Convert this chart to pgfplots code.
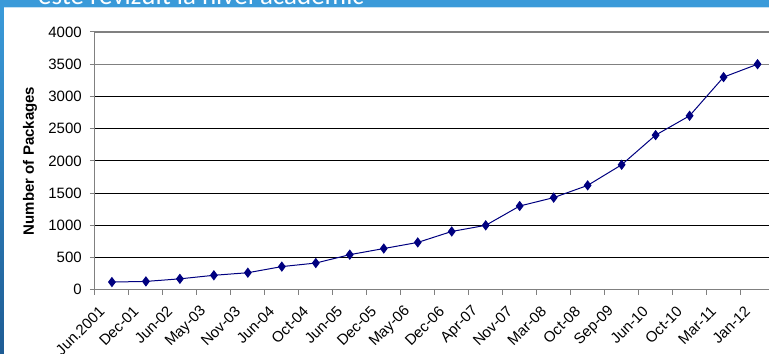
\documentclass[border=0pt]{standalone}
\usepackage{pgfplots}
\pgfplotsset{compat=1.18}
\usepackage{fontspec}
\setmainfont{Liberation Sans}
\newfontfamily\slidefont{Carlito}

\definecolor{framelight}{RGB}{58,154,217}
\definecolor{framedark}{RGB}{30,92,148}
\definecolor{seriesblue}{RGB}{0,0,128}
\definecolor{axisgray}{RGB}{128,128,128}

\begin{document}
\begin{tikzpicture}
% slide frame
\fill[white] (0pt,0pt) rectangle (770pt,354pt);
\fill[framelight] (0pt,347pt) rectangle (770pt,354pt);
\draw[white!70!framelight, line width=0.8pt] (4pt,346.6pt) -- (770pt,346.6pt);
\shade[top color=framelight, bottom color=framedark] (0pt,0pt) rectangle (4pt,347pt);
\begin{scope}
\clip (0pt,347pt) rectangle (770pt,354pt);
\node[overlay, anchor=base west, inner sep=0pt, text=white, font=\slidefont\fontsize{27}{30}\selectfont]
  at (38pt,349.5pt) {este revizuit la nivel academic};
\end{scope}

\begin{axis}[
  at={(95pt,64pt)}, anchor=south west,
  scale only axis, width=675pt, height=258pt,
  xmin=-0.5, xmax=19.35, ymin=0, ymax=4000,
  axis x line*=bottom, axis y line*=left,
  axis line style={axisgray, line width=1pt},
  font=\fontsize{15}{18}\selectfont,
  /pgf/number format/assume math mode=true,
  ytick={0,500,...,3000},
  extra y ticks={3500,4000},
  extra y tick style={grid style={axisgray, line width=1.1pt}},
  ymajorgrids, grid style={black, line width=0.9pt},
  y tick style={axisgray, line width=1pt},
  tick align=outside, major tick length=5pt,
  yticklabel style={inner sep=0pt, xshift=-8pt},
  yticklabel={\pgfmathprintnumber[fixed, 1000 sep={}]{\tick}},
  xtick={0,...,19},
  x tick style={draw=none},
  xticklabels={Jun.2001,Dec-01,Jun-02,May-03,Nov-03,Jun-04,Oct-04,Jun-05,Dec-05,May-06,
               Dec-06,Apr-07,Nov-07,Mar-08,Oct-08,Sep-09,Jun-10,Oct-10,Mar-11,Jan-12},
  xticklabel style={overlay, inner sep=0pt, xshift=-10pt, yshift=-14pt, rotate=45, anchor=east},
  extra x ticks={-0.5,0.5,...,18.5},
  extra x tick labels={},
  extra x tick style={x tick style={draw=axisgray, line width=1pt}, major tick length=5pt},
  ylabel={\textbf{Number of Packages}},
  every axis y label/.style={at={(axis description cs:-0.0963,0.5)}, rotate=90, anchor=center},
  clip=false,
]
\addplot[seriesblue, line width=1pt, mark=diamond*, mark size=4.4pt,
         mark options={fill=seriesblue, draw=seriesblue}]
  coordinates {
  (0,120) (1,130) (2,170) (3,225) (4,265) (5,360) (6,415) (7,545) (8,640) (9,735)
  (10,905) (11,1000) (12,1300) (13,1430) (14,1620) (15,1940) (16,2400) (17,2700)
  (18,3300) (19,3500)
  };
\end{axis}
\end{tikzpicture}
\end{document}
